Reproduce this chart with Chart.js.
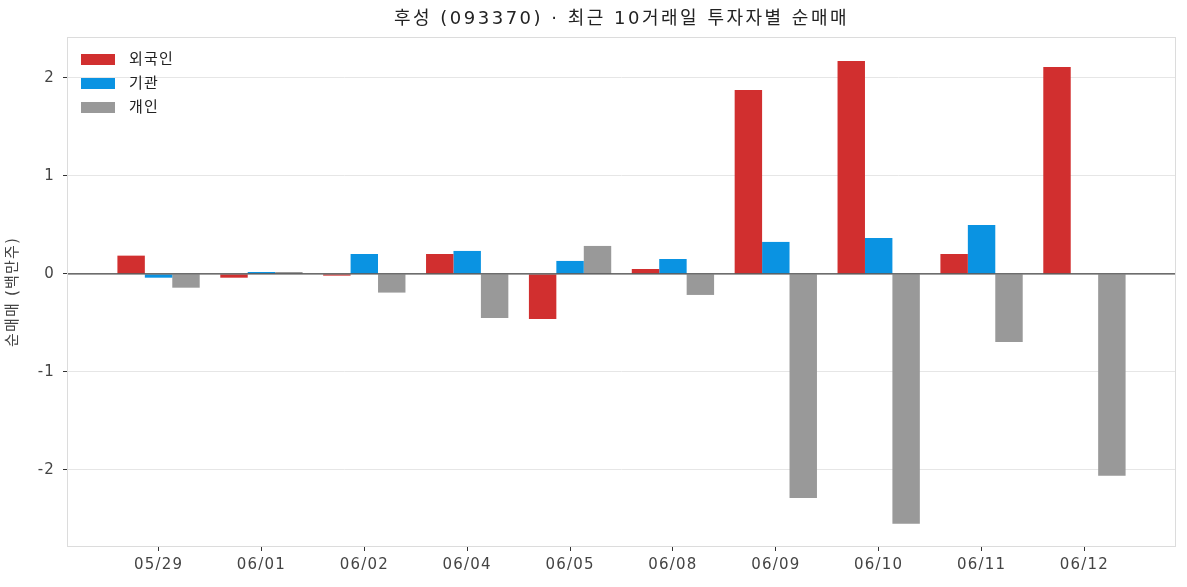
<!DOCTYPE html>
<html>
<head>
<meta charset="utf-8">
<script src="https://cdn.jsdelivr.net/npm/chart.js@4"></script>
<style>
  html, body { margin: 0; padding: 0; background: #fff; }
  #wrap { width: 1187px; height: 587px; }
</style>
</head>
<body>
<div id="wrap"><canvas id="flowChart" width="1187" height="587"></canvas></div>
<script>
var dates = ['05/29', '06/01', '06/02', '06/04', '06/05', '06/08', '06/09', '06/10', '06/11', '06/12'];
var foreign = [0.187, -0.038, -0.017, 0.204, -0.459, 0.051, 1.878, 2.173, 0.204, 2.112];
var institution = [-0.038, 0.02, 0.204, 0.235, 0.133, 0.153, 0.327, 0.367, 0.5, 0.0];
var individual = [-0.14, 0.02, -0.19, -0.45, 0.286, -0.214, -2.286, -2.548, -0.694, -2.058];
var yTicks = [-2, -1, 0, 1, 2];
var titleText = '후성 (093370) · 최근 10거래일 투자자별 순매매';

var FONT = '"DejaVu Sans", "Noto Sans CJK KR", sans-serif';

function toPoints(arr) {
  return arr.map(function (v, i) { return { x: i, y: v }; });
}

// the reference text is set quite wide, so space the letters a little
var spacingPlugin = {
  id: 'spacing',
  beforeUpdate: function (chart) { chart.ctx.letterSpacing = '1.2px'; },
  beforeDraw: function (chart) { chart.ctx.letterSpacing = '1.2px'; }
};

var framePlugin = {
  id: 'frame',
  afterDatasetsDraw: function (chart) {
    var ctx = chart.ctx, a = chart.chartArea;
    var y0 = chart.scales.y.getPixelForValue(0);
    ctx.save();
    ctx.strokeStyle = '#444';
    ctx.lineWidth = 1.2;
    ctx.beginPath();
    ctx.moveTo(a.left, y0);
    ctx.lineTo(a.right, y0);
    ctx.stroke();
    ctx.strokeStyle = '#dcdcdc';
    ctx.lineWidth = 1;
    ctx.strokeRect(a.left + 0.5, a.top + 0.5, a.right - a.left - 1, a.bottom - a.top - 1);
    ctx.restore();
  },
  afterDraw: function (chart) {
    var ctx = chart.ctx, a = chart.chartArea;
    ctx.save();
    // title
    ctx.letterSpacing = '2.5px';
    ctx.font = '18px ' + FONT;
    ctx.fillStyle = '#222';
    ctx.textAlign = 'center';
    ctx.textBaseline = 'middle';
    ctx.fillText(titleText, (a.left + a.right) / 2, 19);
    // legend inside the plot, top left
    ctx.letterSpacing = '1.2px';
    ctx.font = '15px ' + FONT;
    ctx.textAlign = 'left';
    chart.data.datasets.forEach(function (ds, i) {
      var y = a.top + 23 + i * 24;
      ctx.fillStyle = ds.backgroundColor;
      ctx.fillRect(a.left + 14, y - 6, 34, 11);
      ctx.fillStyle = '#222';
      ctx.fillText(ds.label, a.left + 62, y);
    });
    ctx.restore();
  }
};

new Chart('flowChart', {
  type: 'bar',
  data: {
    datasets: [
      { label: '외국인', data: toPoints(foreign), backgroundColor: '#d12f2f' },
      { label: '기관', data: toPoints(institution), backgroundColor: '#0a93e2' },
      { label: '개인', data: toPoints(individual), backgroundColor: '#999999' }
    ]
  },
  options: {
    responsive: false,
    animation: false,
    categoryPercentage: 0.8,
    barPercentage: 1.0,
    layout: { padding: { left: 0, right: 11, top: 37, bottom: 0 } },
    plugins: {
      legend: { display: false },
      tooltip: { enabled: false },
      title: { display: false }
    },
    scales: {
      x: {
        type: 'linear',
        offset: false,
        min: -0.89,
        max: 9.89,
        afterBuildTicks: function (scale) {
          scale.ticks = dates.map(function (d, i) { return { value: i }; });
        },
        afterFit: function (scale) { scale.height = 40; },
        border: { display: false },
        grid: { drawOnChartArea: false, drawTicks: true, tickLength: 4, tickColor: '#333', offset: false },
        ticks: {
          color: '#444',
          font: { family: FONT, size: 15 },
          padding: 5,
          maxRotation: 0,
          autoSkip: false,
          callback: function (v) { return dates[v]; }
        }
      },
      y: {
        min: -2.786,
        max: 2.418,
        afterBuildTicks: function (scale) {
          scale.ticks = yTicks.map(function (v) { return { value: v }; });
        },
        afterFit: function (scale) { scale.width = 67; },
        border: { display: false },
        grid: { color: '#e6e6e6', drawTicks: true, tickLength: 4, tickColor: '#333' },
        ticks: {
          color: '#444',
          font: { family: FONT, size: 15 },
          padding: 8,
          callback: function (v) { return String(v); }
        },
        title: {
          display: true,
          text: '순매매 (백만주)',
          color: '#444',
          font: { family: FONT, size: 15 },
          padding: { top: 4, bottom: 0 }
        }
      }
    }
  },
  plugins: [spacingPlugin, framePlugin]
});
</script>
</body>
</html>
